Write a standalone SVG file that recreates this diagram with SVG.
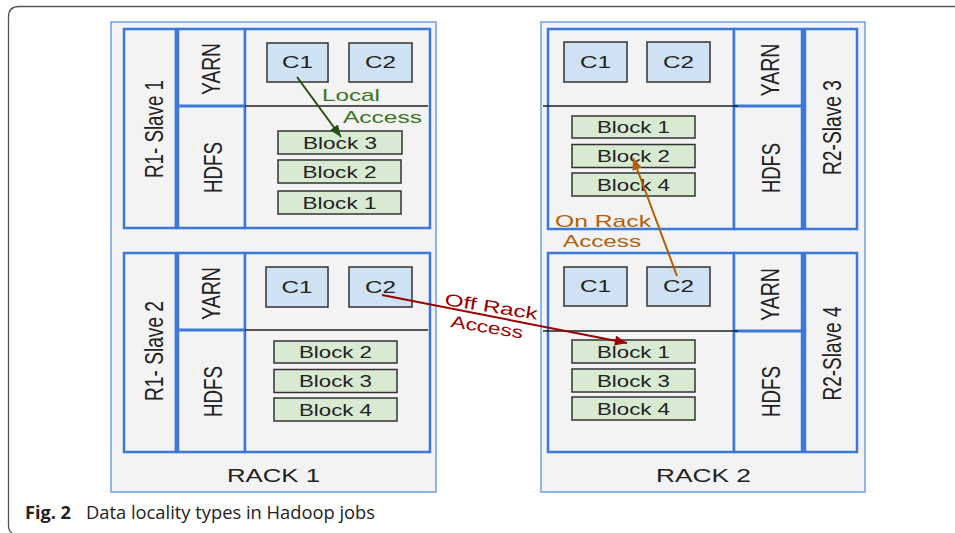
<svg xmlns="http://www.w3.org/2000/svg" width="955" height="533" viewBox="0 0 955 533">
<defs>
<style>
.t{font-family:"Liberation Sans",Arial,sans-serif;fill:#222}
.rack{fill:#f3f3f3;stroke:#6d9eeb;stroke-width:1.5}
.sl{fill:#f3f3f3;stroke:#3c78d8;stroke-width:2.5}
.thick{stroke:#3c78d8;stroke-width:4.5;fill:none}
.split{stroke:#3c78d8;stroke-width:3;fill:none}
.div{stroke:#222;stroke-width:1.5;fill:none}
.cb{fill:#cfe2f3;stroke:#333;stroke-width:1.5}
.bb{fill:#d9ead3;stroke:#333;stroke-width:1.5}
.ct{font-size:17px;text-anchor:middle}
.rt{font-size:25px;text-anchor:middle}
</style>
<marker id="ag" viewBox="0 0 12 10" refX="12" refY="5" markerWidth="12" markerHeight="10" markerUnits="userSpaceOnUse" orient="auto"><path d="M0,0 L12,5 L0,10 z" fill="#274e13"/></marker>
<marker id="ar" viewBox="0 0 12 10" refX="12" refY="5" markerWidth="13" markerHeight="10" markerUnits="userSpaceOnUse" orient="auto"><path d="M0,0 L12,5 L0,10 z" fill="#990000"/></marker>
<marker id="ao" viewBox="0 0 12 10" refX="12" refY="5" markerWidth="12" markerHeight="10" markerUnits="userSpaceOnUse" orient="auto"><path d="M0,0 L12,5 L0,10 z" fill="#b45f06"/></marker>
</defs>
<rect width="955" height="533" fill="#fff"/>
<path d="M955 6.5 H19 Q8.5 6.5 8.5 17 V525 Q8.5 531 12 533" fill="none" stroke="#555" stroke-width="1.3"/>

<g id="rack1">
<rect class="rack" x="111" y="22" width="325" height="470"/>
<text class="t" x="273.5" y="482" font-size="19" text-anchor="middle" textLength="93" lengthAdjust="spacingAndGlyphs">RACK 1</text>
</g>
<g id="rack2">
<rect class="rack" x="541" y="22" width="324" height="470"/>
<text class="t" x="703.5" y="482" font-size="19" text-anchor="middle" textLength="95" lengthAdjust="spacingAndGlyphs">RACK 2</text>
</g>

<g id="r1-slave1">
<rect class="sl" x="124" y="29" width="52" height="199"/>
<rect class="sl" x="177" y="29" width="68" height="199"/>
<rect class="sl" x="245" y="29" width="185" height="199"/>
<line class="thick" x1="177" y1="28" x2="177" y2="229"/>
<line class="split" x1="177" y1="106" x2="245" y2="106"/>
<line class="div" x1="245" y1="106" x2="428" y2="106" stroke="#777"/>
<text class="t rt" transform="translate(152.7,129) rotate(-90)" y="10" font-size="27" textLength="98" lengthAdjust="spacingAndGlyphs">R1- Slave 1</text>
<text class="t rt" transform="translate(211,69) rotate(-90)" y="9" textLength="52" lengthAdjust="spacingAndGlyphs">YARN</text>
<text class="t rt" transform="translate(212,167.5) rotate(-90)" y="9.5" textLength="51" lengthAdjust="spacingAndGlyphs">HDFS</text>
</g>
<g id="r1s1-c1"><rect class="cb" x="267" y="43" width="61" height="39"/><text class="t ct" x="297.5" y="68" textLength="31" lengthAdjust="spacingAndGlyphs">C1</text></g>
<g id="r1s1-c2"><rect class="cb" x="349" y="43" width="63" height="39"/><text class="t ct" x="380.5" y="68" textLength="31" lengthAdjust="spacingAndGlyphs">C2</text></g>
<g id="r1s1-b3"><rect class="bb" x="278" y="131" width="124" height="23" stroke="#666" stroke-width="2.2"/><text class="t ct" x="340" y="148.5" textLength="74" lengthAdjust="spacingAndGlyphs">Block 3</text></g>
<g id="r1s1-b2"><rect class="bb" x="278" y="160" width="123" height="23"/><text class="t ct" x="339.5" y="177.5" textLength="74" lengthAdjust="spacingAndGlyphs">Block 2</text></g>
<g id="r1s1-b1"><rect class="bb" x="278" y="191" width="123" height="23"/><text class="t ct" x="339.5" y="208.5" textLength="74" lengthAdjust="spacingAndGlyphs">Block 1</text></g>

<g id="r1-slave2">
<rect class="sl" x="124" y="253" width="52" height="199"/>
<rect class="sl" x="177" y="253" width="68" height="199"/>
<rect class="sl" x="245" y="253" width="185" height="199"/>
<line class="thick" x1="177" y1="252" x2="177" y2="453"/>
<line class="split" x1="177" y1="330" x2="245" y2="330"/>
<line class="div" x1="245" y1="330" x2="428" y2="330"/>
<text class="t rt" transform="translate(153,351) rotate(-90)" y="10" font-size="27" textLength="100" lengthAdjust="spacingAndGlyphs">R1- Slave 2</text>
<text class="t rt" transform="translate(211,293.5) rotate(-90)" y="9" textLength="53" lengthAdjust="spacingAndGlyphs">YARN</text>
<text class="t rt" transform="translate(212,391.5) rotate(-90)" y="9.5" textLength="51" lengthAdjust="spacingAndGlyphs">HDFS</text>
</g>
<g id="r1s2-c1"><rect class="cb" x="266" y="267" width="62" height="40"/><text class="t ct" x="297" y="292.5" textLength="31" lengthAdjust="spacingAndGlyphs">C1</text></g>
<g id="r1s2-c2"><rect class="cb" x="349" y="267" width="63" height="40"/><text class="t ct" x="380.5" y="292.5" textLength="31" lengthAdjust="spacingAndGlyphs">C2</text></g>
<g id="r1s2-b2"><rect class="bb" x="274" y="341" width="123" height="22"/><text class="t ct" x="335.5" y="358" textLength="73" lengthAdjust="spacingAndGlyphs">Block 2</text></g>
<g id="r1s2-b3"><rect class="bb" x="274" y="369.5" width="123" height="23"/><text class="t ct" x="335.5" y="387" textLength="73" lengthAdjust="spacingAndGlyphs">Block 3</text></g>
<g id="r1s2-b4"><rect class="bb" x="274" y="398" width="123" height="23"/><text class="t ct" x="335.5" y="415.5" textLength="73" lengthAdjust="spacingAndGlyphs">Block 4</text></g>

<g id="r2-slave3">
<rect class="sl" x="548" y="29" width="186" height="200"/>
<rect class="sl" x="734" y="29" width="69" height="200"/>
<rect class="sl" x="805" y="29" width="52" height="200"/>
<line class="thick" x1="803" y1="28" x2="803" y2="230"/>
<line class="split" x1="734" y1="106" x2="803" y2="106"/>
<line class="div" x1="543" y1="106" x2="738" y2="106"/>
<text class="t rt" transform="translate(769.5,70) rotate(-90)" y="9" textLength="53" lengthAdjust="spacingAndGlyphs">YARN</text>
<text class="t rt" transform="translate(770.5,168) rotate(-90)" y="9.5" textLength="50" lengthAdjust="spacingAndGlyphs">HDFS</text>
<text class="t rt" transform="translate(831,127.5) rotate(-90)" y="10" font-size="27" textLength="95" lengthAdjust="spacingAndGlyphs">R2-Slave 3</text>
</g>
<g id="r2s3-c1"><rect class="cb" x="564" y="42" width="63" height="40"/><text class="t ct" x="595.5" y="67.5" textLength="31" lengthAdjust="spacingAndGlyphs">C1</text></g>
<g id="r2s3-c2"><rect class="cb" x="647" y="42" width="63" height="40"/><text class="t ct" x="678.5" y="67.5" textLength="31" lengthAdjust="spacingAndGlyphs">C2</text></g>
<g id="r2s3-b1"><rect class="bb" x="572" y="116" width="123" height="22"/><text class="t ct" x="633.5" y="133" textLength="73" lengthAdjust="spacingAndGlyphs">Block 1</text></g>
<g id="r2s3-b2"><rect class="bb" x="572" y="144.5" width="123" height="23"/><text class="t ct" x="633.5" y="162" textLength="73" lengthAdjust="spacingAndGlyphs">Block 2</text></g>
<g id="r2s3-b4"><rect class="bb" x="572" y="173" width="123" height="23"/><text class="t ct" x="633.5" y="190.5" textLength="73" lengthAdjust="spacingAndGlyphs">Block 4</text></g>

<g id="r2-slave4">
<rect class="sl" x="548" y="253" width="186" height="199"/>
<rect class="sl" x="734" y="253" width="69" height="199"/>
<rect class="sl" x="805" y="253" width="52" height="199"/>
<line class="thick" x1="803" y1="252" x2="803" y2="453"/>
<line class="split" x1="734" y1="331" x2="803" y2="331"/>
<line class="div" x1="543" y1="331" x2="738" y2="331"/>
<text class="t rt" transform="translate(769.5,294.5) rotate(-90)" y="9" textLength="53" lengthAdjust="spacingAndGlyphs">YARN</text>
<text class="t rt" transform="translate(770.5,391.5) rotate(-90)" y="9.5" textLength="51" lengthAdjust="spacingAndGlyphs">HDFS</text>
<text class="t rt" transform="translate(831,353.5) rotate(-90)" y="10" font-size="27" textLength="94" lengthAdjust="spacingAndGlyphs">R2-Slave 4</text>
</g>
<g id="r2s4-c1"><rect class="cb" x="564" y="267" width="63" height="39"/><text class="t ct" x="595.5" y="292" textLength="31" lengthAdjust="spacingAndGlyphs">C1</text></g>
<g id="r2s4-c2"><rect class="cb" x="647" y="267" width="63" height="39"/><text class="t ct" x="678.5" y="292" textLength="31" lengthAdjust="spacingAndGlyphs">C2</text></g>
<g id="r2s4-b1"><rect class="bb" x="572" y="340" width="123" height="23"/><text class="t ct" x="633.5" y="357.5" textLength="73" lengthAdjust="spacingAndGlyphs">Block 1</text></g>
<g id="r2s4-b3"><rect class="bb" x="572" y="369" width="123" height="23"/><text class="t ct" x="633.5" y="386.5" textLength="73" lengthAdjust="spacingAndGlyphs">Block 3</text></g>
<g id="r2s4-b4"><rect class="bb" x="572" y="397" width="123" height="23"/><text class="t ct" x="633.5" y="414.5" textLength="73" lengthAdjust="spacingAndGlyphs">Block 4</text></g>

<g id="connectors" fill="none" stroke-width="2">
<line x1="297" y1="77" x2="341" y2="137" stroke="#274e13" marker-end="url(#ag)"/>
<line x1="382" y1="295" x2="627" y2="343" stroke="#990000" marker-end="url(#ar)"/>
<line x1="677" y1="276" x2="633" y2="158" stroke="#b45f06" marker-end="url(#ao)"/>
</g>
<g id="labels" class="t" font-size="17">
<text x="322" y="101" style="fill:#38761d" textLength="58" lengthAdjust="spacingAndGlyphs">Local</text>
<text x="343" y="123" style="fill:#38761d" textLength="79" lengthAdjust="spacingAndGlyphs">Access</text>
<text x="555" y="227" style="fill:#b45f06" textLength="96" lengthAdjust="spacingAndGlyphs">On Rack</text>
<text x="563" y="247" style="fill:#b45f06" textLength="78" lengthAdjust="spacingAndGlyphs">Access</text>
<text transform="translate(444,305) rotate(9)" style="fill:#990000" textLength="94" lengthAdjust="spacingAndGlyphs">Off Rack</text>
<text transform="translate(450,327) rotate(9)" style="fill:#990000" textLength="73" lengthAdjust="spacingAndGlyphs">Access</text>
</g>
<g id="caption" font-family="'Open Sans','Noto Sans',sans-serif" font-size="18" fill="#222">
<text x="25" y="519" font-weight="bold" textLength="46" lengthAdjust="spacingAndGlyphs">Fig. 2</text>
<text x="86" y="519" textLength="289" lengthAdjust="spacingAndGlyphs">Data locality types in Hadoop jobs</text>
</g>
</svg>
